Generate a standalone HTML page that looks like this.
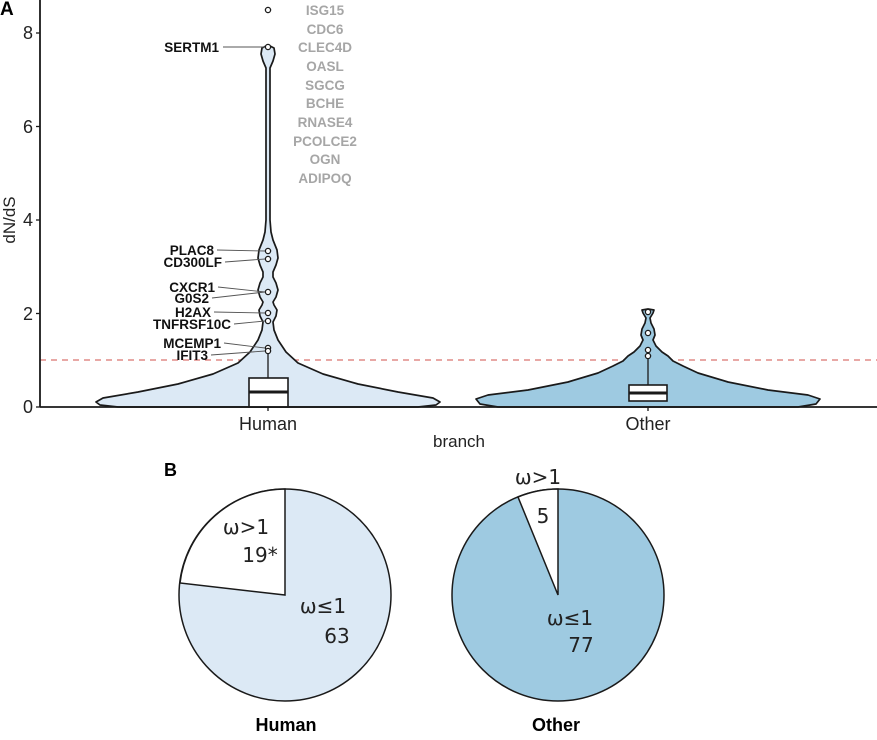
<!DOCTYPE html>
<html><head><meta charset="utf-8"><style>
html,body{margin:0;padding:0;background:#fff;}
svg{display:block;font-family:"Liberation Sans",sans-serif;}
</style></head><body>
<svg width="877" height="740" viewBox="0 0 877 740" xmlns="http://www.w3.org/2000/svg">
<rect width="877" height="740" fill="#fff"/>
<text x="0" y="15" font-size="19" font-weight="bold">A</text>
<line x1="40" y1="360" x2="877" y2="360" stroke="#d9736f" stroke-width="1.3" stroke-dasharray="6,5"/>
<path fill="#dce9f5" stroke="#1a1a1a" stroke-width="1.7" stroke-linejoin="round" d="M268,407 L418,407 L436,405 L440,402 L433,398 L398,392 L358,384 L323,374 L298,363 L286,352 L278,340 L274,330 L273,322 L276,316 L277,310 L274,305 L273,302 L276,297 L278,290 L276,283 L273,277 L273,272 L276,265 L278,258 L277,250 L273,240 L271,232 L270,220 L270,68 L273,61 L275,54 L274,48 L268,45 L262,48 L261,54 L263,61 L266,68 L266,220 L265,232 L263,240 L259,250 L258,258 L260,265 L263,272 L263,277 L260,283 L258,290 L260,297 L263,302 L262,305 L259,310 L260,316 L263,322 L262,330 L258,340 L250,352 L238,363 L213,374 L178,384 L138,392 L103,398 L96,402 L100,405 L118,407 Z"/>
<path fill="#9ecae1" stroke="#1a1a1a" stroke-width="1.7" stroke-linejoin="round" d="M648,407 L798,407 L816,404 L820,399 L808,395 L768,390 L728,382 L698,373 L683,366 L673,361 L668,356 L662,352 L656,346 L653,340 L655,335 L654,329 L651,323 L650,318 L653,313 L654,310 L648,309 L642,310 L643,313 L646,318 L645,323 L642,329 L641,335 L643,340 L640,346 L634,352 L628,356 L623,361 L613,366 L598,373 L568,382 L528,390 L488,395 L476,399 L480,404 L498,407 Z"/>
<line x1="268" y1="348" x2="268" y2="378" stroke="#1a1a1a" stroke-width="1.3"/>
<rect x="249" y="378" width="39" height="29" fill="#fff" stroke="#1a1a1a" stroke-width="1.6"/>
<line x1="249" y1="392" x2="288" y2="392" stroke="#1a1a1a" stroke-width="3"/>
<line x1="648" y1="358" x2="648" y2="385" stroke="#1a1a1a" stroke-width="1.3"/>
<rect x="629" y="385" width="38" height="16" fill="#fff" stroke="#1a1a1a" stroke-width="1.6"/>
<line x1="629" y1="393" x2="667" y2="393" stroke="#1a1a1a" stroke-width="3"/>
<line x1="40" y1="0" x2="40" y2="407" stroke="#1a1a1a" stroke-width="1.8"/>
<line x1="40" y1="407" x2="877" y2="407" stroke="#1a1a1a" stroke-width="1.8"/>
<g stroke="#1a1a1a" stroke-width="1.3">
<line x1="36" y1="407" x2="40" y2="407"/><line x1="36" y1="313.5" x2="40" y2="313.5"/><line x1="36" y1="220" x2="40" y2="220"/><line x1="36" y1="126.5" x2="40" y2="126.5"/><line x1="36" y1="33" x2="40" y2="33"/>
<line x1="268" y1="407" x2="268" y2="411"/><line x1="648" y1="407" x2="648" y2="411"/>
</g>
<g font-size="18" fill="#222" text-anchor="end">
<text x="33" y="413">0</text><text x="33" y="320">2</text><text x="33" y="226">4</text><text x="33" y="133">6</text><text x="33" y="39">8</text>
</g>
<text transform="translate(15,220) rotate(-90)" font-size="17" text-anchor="middle" fill="#222">dN/dS</text>
<text x="268" y="430" font-size="18" text-anchor="middle" fill="#222">Human</text>
<text x="648" y="430" font-size="18" text-anchor="middle" fill="#222">Other</text>
<text x="459" y="447" font-size="17" text-anchor="middle" fill="#222">branch</text>
<g fill="#fff" stroke="#1a1a1a" stroke-width="1.3">
<circle cx="268" cy="10" r="2.6"/><circle cx="268" cy="47" r="2.6"/><circle cx="268" cy="251" r="2.6"/><circle cx="268" cy="259" r="2.6"/><circle cx="268" cy="292" r="2.6"/><circle cx="268" cy="313" r="2.6"/><circle cx="268" cy="321" r="2.6"/><circle cx="268" cy="348" r="2.6"/><circle cx="268" cy="351" r="2.6"/>
<circle cx="648" cy="312" r="2.6"/><circle cx="648" cy="333" r="2.6"/><circle cx="648" cy="350" r="2.6"/><circle cx="648" cy="356" r="2.6"/>
</g>
<g stroke="#555" stroke-width="0.9">
<line x1="223" y1="47" x2="265" y2="47"/><line x1="217" y1="250" x2="265" y2="251"/><line x1="225" y1="262" x2="265" y2="259"/>
<line x1="218" y1="287" x2="265" y2="292"/><line x1="212" y1="298" x2="265" y2="292"/><line x1="214" y1="312" x2="265" y2="313"/>
<line x1="234" y1="324" x2="265" y2="321"/><line x1="224" y1="343" x2="265" y2="348"/><line x1="211" y1="355" x2="265" y2="351"/>
</g>
<g font-size="13.5" font-weight="bold" fill="#111" text-anchor="end">
<text x="219" y="52">SERTM1</text><text x="214" y="255">PLAC8</text><text x="222" y="267">CD300LF</text>
<text x="215" y="292">CXCR1</text><text x="209" y="303">G0S2</text><text x="211" y="317">H2AX</text>
<text x="231" y="329">TNFRSF10C</text><text x="221" y="348">MCEMP1</text><text x="208" y="360">IFIT3</text>
</g>
<g font-size="13.5" font-weight="bold" fill="#a6a6a6" text-anchor="middle">
<text x="325" y="15">ISG15</text><text x="325" y="34">CDC6</text><text x="325" y="52">CLEC4D</text><text x="325" y="71">OASL</text><text x="325" y="90">SGCG</text><text x="325" y="108">BCHE</text><text x="325" y="127">RNASE4</text><text x="325" y="146">PCOLCE2</text><text x="325" y="164">OGN</text><text x="325" y="183">ADIPOQ</text>
</g>
<text x="164" y="476" font-size="18" font-weight="bold">B</text>
<circle cx="285" cy="595" r="106" fill="#dce9f5" stroke="#1a1a1a" stroke-width="1.5"/>
<path d="M285,595 L285,489 A106,106 0 0 0 180,583 Z" fill="#fff" stroke="#1a1a1a" stroke-width="1.5"/>
<circle cx="558" cy="595" r="106" fill="#9ecae1" stroke="#1a1a1a" stroke-width="1.5"/>
<path d="M558,595 L558,489 A106,106 0 0 0 518,497 Z" fill="#fff" stroke="#1a1a1a" stroke-width="1.5"/>
<g font-family="'DejaVu Sans',sans-serif" font-size="20" fill="#222" text-anchor="middle">
<text x="246" y="534">ω&gt;1</text><text x="260" y="562">19*</text>
<text x="323" y="613">ω≤1</text><text x="337" y="643">63</text>
<text x="538" y="484">ω&gt;1</text><text x="543" y="523">5</text>
<text x="570" y="625">ω≤1</text><text x="581" y="652">77</text>
</g>
<text x="286" y="731" font-size="18" font-weight="bold" text-anchor="middle">Human</text>
<text x="556" y="731" font-size="18" font-weight="bold" text-anchor="middle">Other</text>
</svg>
</body></html>
